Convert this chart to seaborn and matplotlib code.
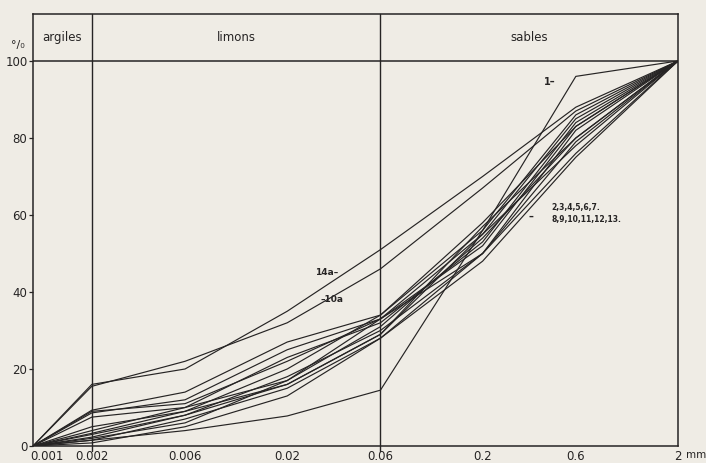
import matplotlib
matplotlib.use("Agg")
import matplotlib.pyplot as plt
import matplotlib.transforms as mtransforms
import numpy as np
import pandas as pd
import seaborn as sns

# Grain-size classes (mm) and cumulative percentages for each sample
sizes = [0.001, 0.002, 0.006, 0.02, 0.06, 0.2, 0.6, 2]
tick_labels = ["0.001", "0.002", "0.006", "0.02", "0.06", "0.2", "0.6", "2"]

s1 = [0, 1.5, 4, 7.8, 14.5, 56, 96, 100]
s14a = [0, 16, 20, 35, 51, 70, 88, 100]
s10a = [0, 15.5, 22, 32, 46, 67, 87, 100]
s2 = [0, 9.3, 14, 27, 34, 56, 86, 100]
s3 = [0, 8.6, 12, 25, 33, 55, 85, 100]
s4 = [0, 7.5, 10, 23, 32, 53, 84, 100]
s5 = [0, 9, 11, 22, 33, 52, 83, 100]
s6 = [0, 4, 10, 17, 33, 50, 82, 100]
s7 = [0, 3.3, 9, 16, 29, 57, 80, 100]
s8 = [0, 2.3, 8, 16, 29, 55, 78, 100]
s9 = [0, 1.5, 7, 15, 28, 50, 76, 100]
s10 = [0, 3, 8, 18, 30, 50, 79, 100]
s11 = [0, 0.8, 5, 13, 28, 48, 75, 100]
s12 = [0, 2, 6, 17, 31, 54, 80, 100]
s13 = [0, 5, 9, 20, 34, 58, 83, 100]

samples = {
    "1": s1, "14a": s14a, "10a": s10a, "2": s2, "3": s3, "4": s4, "5": s5,
    "6": s6, "7": s7, "8": s8, "9": s9, "10": s10, "11": s11, "12": s12, "13": s13,
}

rows = []
for name, vals in samples.items():
    for d, p in zip(sizes, vals):
        rows.append({"sample": name, "diam": d, "pct": p})
df = pd.DataFrame(rows)

sns.set_theme(style="white")
plt.rcParams["font.family"] = ["DejaVu Sans"]

paper = "#efece5"
ink = "#262424"

fig = plt.figure(figsize=(7.06, 4.63), dpi=100, facecolor=paper)
ax = fig.add_axes([33 / 706, 17 / 463, 645 / 706, 432 / 463])
ax.set_facecolor(paper)

sns.lineplot(data=df, x="diam", y="pct", units="sample", estimator=None,
             color=ink, lw=0.85, ax=ax, legend=False)

ax.set_xscale("log")
ax.set_xlim(0.001, 2)
ax.set_ylim(0, 112.2)

# Frame and class boundaries
for sp in ax.spines.values():
    sp.set_color(ink)
    sp.set_linewidth(1.1)
ax.axhline(100, color=ink, lw=1.1)
for b in (0.002, 0.06):
    ax.plot([b, b], [-1.2, 112.2], color=ink, lw=1.0, clip_on=False)

ax.set_xticks(sizes)
ax.set_xticklabels(tick_labels)
ax.xaxis.set_minor_locator(matplotlib.ticker.NullLocator())
ax.set_yticks([0, 20, 40, 60, 80, 100])
ax.tick_params(axis="x", direction="in", length=3, width=0.9, color=ink,
               labelsize=8.5, labelcolor=ink, pad=3)
ax.tick_params(axis="y", direction="out", length=3, width=0.9, color=ink,
               labelsize=8.5, labelcolor=ink, pad=1, left=True)
ax.set_xlabel("")
ax.set_ylabel("")

# Keep the first size label clear of the "0" on the y axis
first = ax.get_xticklabels()[0]
first.set_horizontalalignment("left")
first.set_transform(first.get_transform() +
                    mtransforms.ScaledTranslation(-3 / 100, 0, fig.dpi_scale_trans))

# Class names in the header band
hdr_y = 106.2
ax.text(np.sqrt(0.001 * 0.002), hdr_y, "argiles", ha="center", va="center",
        fontsize=8.5, color=ink)
ax.text(np.sqrt(0.002 * 0.06), hdr_y, "limons", ha="center", va="center",
        fontsize=8.5, color=ink)
ax.text(np.sqrt(0.06 * 2), hdr_y, "sables", ha="center", va="center",
        fontsize=8.5, color=ink)

# Units
fig.text(18 / 706, 1 - 45 / 463, "°/₀", ha="center", va="center",
         fontsize=8, color=ink)
fig.text(686 / 706, 1 - 460 / 463, "mm", ha="left", va="bottom",
         fontsize=7.5, color=ink)

# Sample labels
ax.text(0.47, 94.5, "1–", ha="right", va="center", fontsize=7, color=ink,
        fontweight="bold")
ax.text(0.032, 45.0, "14a–", ha="center", va="center", fontsize=6.5,
        color=ink, fontweight="bold")
ax.text(0.034, 38.0, "–10a", ha="center", va="center", fontsize=6.5,
        color=ink, fontweight="bold")
ax.text(0.355, 59.6, "–", ha="center", va="center", fontsize=7, color=ink,
        fontweight="bold")
ax.text(0.45, 62.0, "2,3,4,5,6,7.", ha="left", va="center", fontsize=5.5,
        color=ink, fontweight="bold")
ax.text(0.45, 58.9, "8,9,10,11,12,13.", ha="left", va="center", fontsize=5.5,
        color=ink, fontweight="bold")

fig.savefig("out.png", dpi=100, facecolor=paper)
